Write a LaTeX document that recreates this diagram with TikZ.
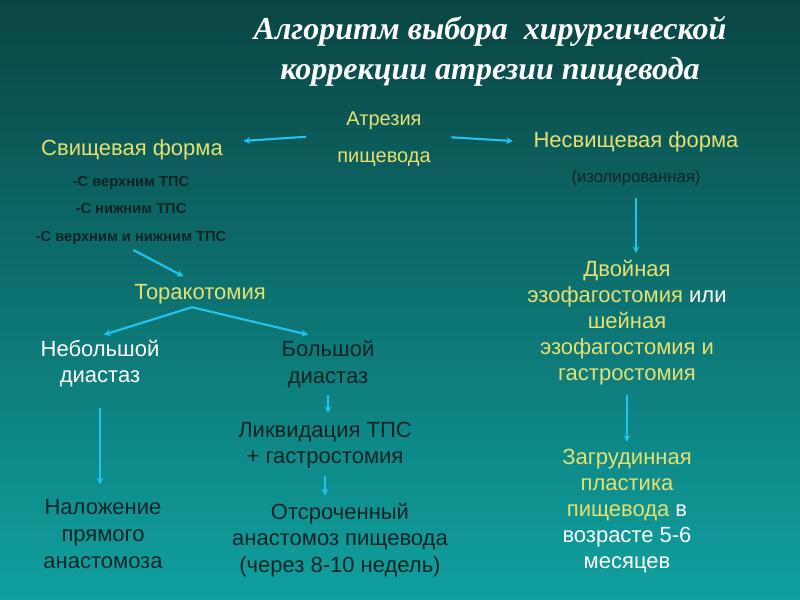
\documentclass[tikz,border=0pt]{standalone}
\usepackage{fontspec}
\setmainfont{Liberation Sans}
\newfontfamily\titlefont{Liberation Serif}
\usetikzlibrary{arrows.meta}

\definecolor{tealtop}{HTML}{0A4543}
\definecolor{tealbot}{HTML}{10A0A0}
\definecolor{yel}{HTML}{E6E070}
\definecolor{darktxt}{HTML}{0B2424}
\definecolor{arrowblue}{HTML}{22C4EE}

\begin{document}
\begin{tikzpicture}[x=0.75pt,y=-0.75pt,>=Stealth,
  arr/.style={-{Stealth[length=5pt,width=5pt]},arrowblue,line width=1.6pt},
  head/.style={text=white,align=center,font=\titlefont\bfseries\itshape\fontsize{24}{30}\selectfont},
  big/.style={text=yel,align=center,font=\fontsize{16.5}{20}\selectfont},
  bigw/.style={text=white,align=center,font=\fontsize{16.5}{19.5}\selectfont},
  bigd/.style={text=darktxt,align=center,font=\fontsize{16.5}{20}\selectfont},
  small/.style={text=yel,align=center,font=\fontsize{15}{28}\selectfont},
  note/.style={text=darktxt,align=center,font=\bfseries\fontsize{11}{20.6}\selectfont},
  ]
\shade[top color=tealtop,bottom color=tealbot] (0,0) rectangle (800,600);

% title
\node[head] (title) at (490,51) {Алгоритм выбора\ \ хирургической\\коррекции атрезии пищевода};

% upper level
\node[small] (atr) at (384,139) {Атрезия\\пищевода};
\node[big] (fist) at (132,150) {Свищевая форма};
\node[note] (list) at (131,210) {-С верхним ТПС\\-С нижним ТПС\\-С верхним и нижним ТПС};
\node[big] (nefist) at (636,142) {Несвищевая форма};
\node[text=darktxt,font=\fontsize{12.5}{14}\selectfont] (izol) at (636,178) {(изолированная)};

% left branch
\node[big] (tor) at (200,294) {Торакотомия};
\node[bigw] (neb) at (100,364) {Небольшой\\диастаз};
\node[bigd] (bol) at (328,364) {Большой\\диастаз};
\node[bigd] (likv) at (325,445) {Ликвидация ТПС\\+ гастростомия};
\node[bigd] (otsr) at (340,540) {Отсроченный\\анастомоз пищевода\\(через 8-10 недель)};
\node[bigd] (nal) at (103,534) {Наложение\\прямого\\анастомоза};

% right branch
\node[big,font=\fontsize{16.5}{19.5}\selectfont] (dvoi) at (627,323)
  {Двойная\\эзофагостомия \textcolor{white}{или}\\шейная\\эзофагостомия и\\гастростомия};
\node[big,font=\fontsize{16.5}{19.5}\selectfont] (zagr) at (627,511)
  {Загрудинная\\пластика\\пищевода \textcolor{white}{в}\\\textcolor{white}{возрасте 5-6}\\\textcolor{white}{месяцев}};

% arrows
\draw[arr,shorten <=20pt,shorten >=12pt] ([yshift=3pt]atr.west) -- ([yshift=6pt]fist.east);
\draw[arr,shorten <=12pt,shorten >=12pt] ([yshift=2pt]atr.east) -- (nefist.west);
\draw[arr,shorten <=2pt,shorten >=5pt] (list.south) -- ([xshift=-8pt]tor.north);
\draw[arr,shorten >=3pt] ([xshift=-6pt,yshift=1pt]tor.south) -- (neb.north);
\draw[arr,shorten >=3pt] ([xshift=-6pt,yshift=1pt]tor.south) -- ([xshift=-12pt]bol.north);
\draw[arr,shorten <=2pt,shorten >=3pt] (bol.south) -- (bol.south |- likv.north);
\draw[arr,shorten <=2pt,shorten >=2pt] (likv.south) -- (likv.south |- otsr.north);
\draw[arr,shorten <=12pt,shorten >=8pt] (neb.south) -- (neb.south |- nal.north);
\draw[arr,shorten <=6pt,shorten >=2pt] (izol.south) -- (izol.south |- dvoi.north);
\draw[arr,shorten <=4pt,shorten >=2pt] (dvoi.south) -- (zagr.north);
\end{tikzpicture}
\end{document}
